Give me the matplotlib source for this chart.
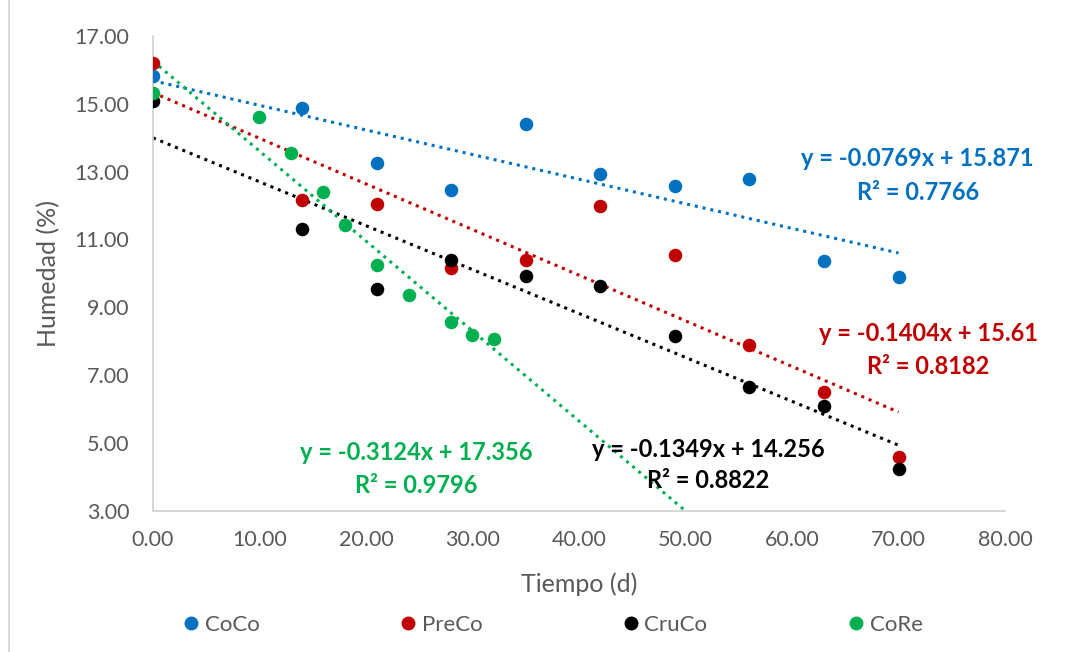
import numpy as np
import matplotlib.pyplot as plt
from matplotlib.lines import Line2D

# --- Data ---
dias = [0, 14, 21, 28, 35, 42, 49, 56, 63, 70]
dias_core = [0, 10, 13, 16, 18, 21, 24, 28, 30, 32]

coco = [15.82, 14.87, 13.24, 12.46, 14.40, 12.93, 12.58, 12.79, 10.37, 9.90]
preco = [16.19, 12.16, 12.03, 10.15, 10.39, 11.99, 10.55, 7.88, 6.49, 4.57]
cruco = [15.09, 11.30, 9.53, 10.39, 9.92, 9.63, 8.15, 6.66, 6.09, 4.23]
core = [15.31, 14.60, 13.54, 12.39, 11.42, 10.24, 9.36, 8.55, 8.18, 8.05]

nombres = ['CoCo', 'PreCo', 'CruCo', 'CoRe']
colores = ['#0070C0', '#C00000', '#000000', '#00B050']

# equation labels as printed on the chart
ecuaciones = ['y = -0.0769x + 15.871', 'y = -0.1404x + 15.61',
              'y = -0.1349x + 14.256', 'y = -0.3124x + 17.356']
r2 = ['R² = 0.7766', 'R² = 0.8182', 'R² = 0.8822', 'R² = 0.9796']

plt.rcParams['font.family'] = ['Lato', 'DejaVu Sans']

fig = plt.figure(figsize=(10.75, 6.52), dpi=100)
ax = fig.add_axes([0.1423, 0.2169, 0.7926, 0.7279])

series = [(dias, coco), (dias, preco), (dias, cruco), (dias_core, core)]

# --- Trendlines (least squares on the plotted points) ---
for (x, y), c in zip(series, colores):
    m, b = np.polyfit(x, y, 1)
    xt = np.array([0, 70])
    ax.plot(xt, m * xt + b, color=c, lw=2.2, linestyle=(0, (1, 1.6)),
            zorder=2)

# --- Points ---
for (x, y), c, nombre in zip(series, colores, nombres):
    ax.scatter(x, y, s=95, color=c, zorder=3, linewidths=0, label=nombre)

# --- Equation labels ---
pos_eq = [(71.8, 13.38, 12.37), (72.8, 8.22, 7.25),
          (52.1, 4.80, 3.89), (24.7, 4.71, 3.74)]
for (xe, y1, y2), c, eq, r in zip(pos_eq, colores, ecuaciones, r2):
    ax.text(xe, y1, eq, color=c, fontsize=17, fontweight='bold',
            ha='center', va='center', zorder=4)
    ax.text(xe, y2, r, color=c, fontsize=17, fontweight='bold',
            ha='center', va='center', zorder=4)

# --- Axes formatting ---
ax.set_xlim(0, 80)
ax.set_ylim(3, 17)
ax.set_xticks(np.arange(0, 81, 10))
ax.set_yticks(np.arange(3, 17.1, 2))
ax.set_xticklabels([f'{v:.2f}' for v in np.arange(0, 81, 10)])
ax.set_yticklabels([f'{v:.2f}' for v in np.arange(3, 17.1, 2)])
ax.tick_params(axis='both', length=0, labelsize=15.5, labelcolor='#595959')
ax.tick_params(axis='y', pad=17)
ax.tick_params(axis='x', pad=14)

for lado in ['top', 'right']:
    ax.spines[lado].set_visible(False)
for lado in ['left', 'bottom']:
    ax.spines[lado].set_color('#D0D0D0')
    ax.spines[lado].set_linewidth(1.2)

ax.set_xlabel('Tiempo (d)', fontsize=18, color='#595959', labelpad=16)
ax.set_ylabel('Humedad (%)', fontsize=18, color='#595959', labelpad=10)

# --- Legend below ---
handles = [Line2D([], [], marker='o', linestyle='none', color=c,
                  markersize=9) for c in colores]
fig.legend(handles, nombres, loc='center', bbox_to_anchor=(0.513, 0.041),
           ncol=4, frameon=False, fontsize=16, labelcolor='#595959',
           handletextpad=0.1, columnspacing=6.2, handlelength=1.0)

# chart area border on the left
fig.add_artist(Line2D([0.008, 0.008], [0, 1], color='#D9D9D9', lw=1.5,
                      transform=fig.transFigure))

fig.savefig('out.png', dpi=100)
